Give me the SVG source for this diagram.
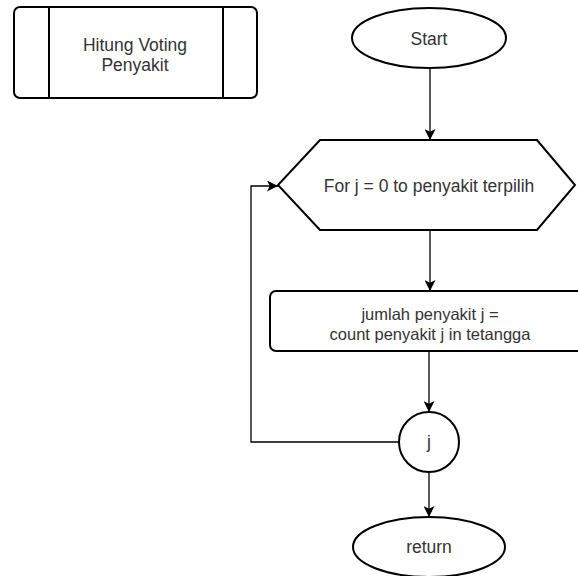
<svg xmlns="http://www.w3.org/2000/svg" width="578" height="576" viewBox="0 0 578 576">
  <style>
    .shape { fill: #ffffff; stroke: #000000; stroke-width: 2; }
    .edge { fill: none; stroke: #000000; stroke-width: 1.3; }
    .label { font-family: "Liberation Sans", Arial, sans-serif; font-size: 17.5px; fill: #333333; text-anchor: middle; }
    .small { font-size: 16.5px; }
  </style>
  <defs>
    <marker id="arrow" viewBox="0 0 10 10" refX="10" refY="5" markerWidth="11" markerHeight="11" markerUnits="userSpaceOnUse" orient="auto">
      <path d="M0,0 L10,5 L0,10 L2.5,5 Z" fill="#000000"/>
    </marker>
  </defs>
  <rect width="578" height="576" fill="#ffffff"/>

  <!-- predefined process: Hitung Voting Penyakit -->
  <g id="subprocess">
    <rect class="shape" x="14" y="7" width="243" height="91" rx="6"/>
    <line class="shape" x1="49" y1="7" x2="49" y2="98"/>
    <line class="shape" x1="223" y1="7" x2="223" y2="98"/>
    <text class="label" x="135" y="51">Hitung Voting</text>
    <text class="label" x="135" y="71">Penyakit</text>
  </g>

  <g id="start">
    <ellipse class="shape" cx="429" cy="38" rx="77" ry="30"/>
    <text class="label" x="429" y="45">Start</text>
  </g>

  <g id="loop">
    <polygon class="shape" points="320,140 537,140 575,185 537,230 320,230 278,185"/>
    <text class="label" x="429" y="192">For j = 0 to penyakit terpilih</text>
  </g>

  <g id="count">
    <rect class="shape" x="270" y="291" width="320" height="60" rx="6"/>
    <text class="label small" x="430" y="319.5">jumlah penyakit j =</text>
    <text class="label small" x="430" y="339.5">count penyakit j in tetangga</text>
  </g>

  <g id="connector-j">
    <circle class="shape" cx="429" cy="442" r="30"/>
    <text class="label" x="429" y="448">j</text>
  </g>

  <g id="return">
    <ellipse class="shape" cx="429" cy="547" rx="76" ry="30"/>
    <text class="label" x="429" y="553">return</text>
  </g>

  <g id="connectors">
    <line class="edge" x1="430" y1="68" x2="430" y2="140" marker-end="url(#arrow)"/>
    <line class="edge" x1="430" y1="230" x2="430" y2="291" marker-end="url(#arrow)"/>
    <line class="edge" x1="429" y1="351" x2="429" y2="412" marker-end="url(#arrow)"/>
    <line class="edge" x1="429" y1="472" x2="429" y2="517" marker-end="url(#arrow)"/>
    <polyline class="edge" points="399,442 251,442 251,186 278,186" marker-end="url(#arrow)"/>
  </g>
</svg>
